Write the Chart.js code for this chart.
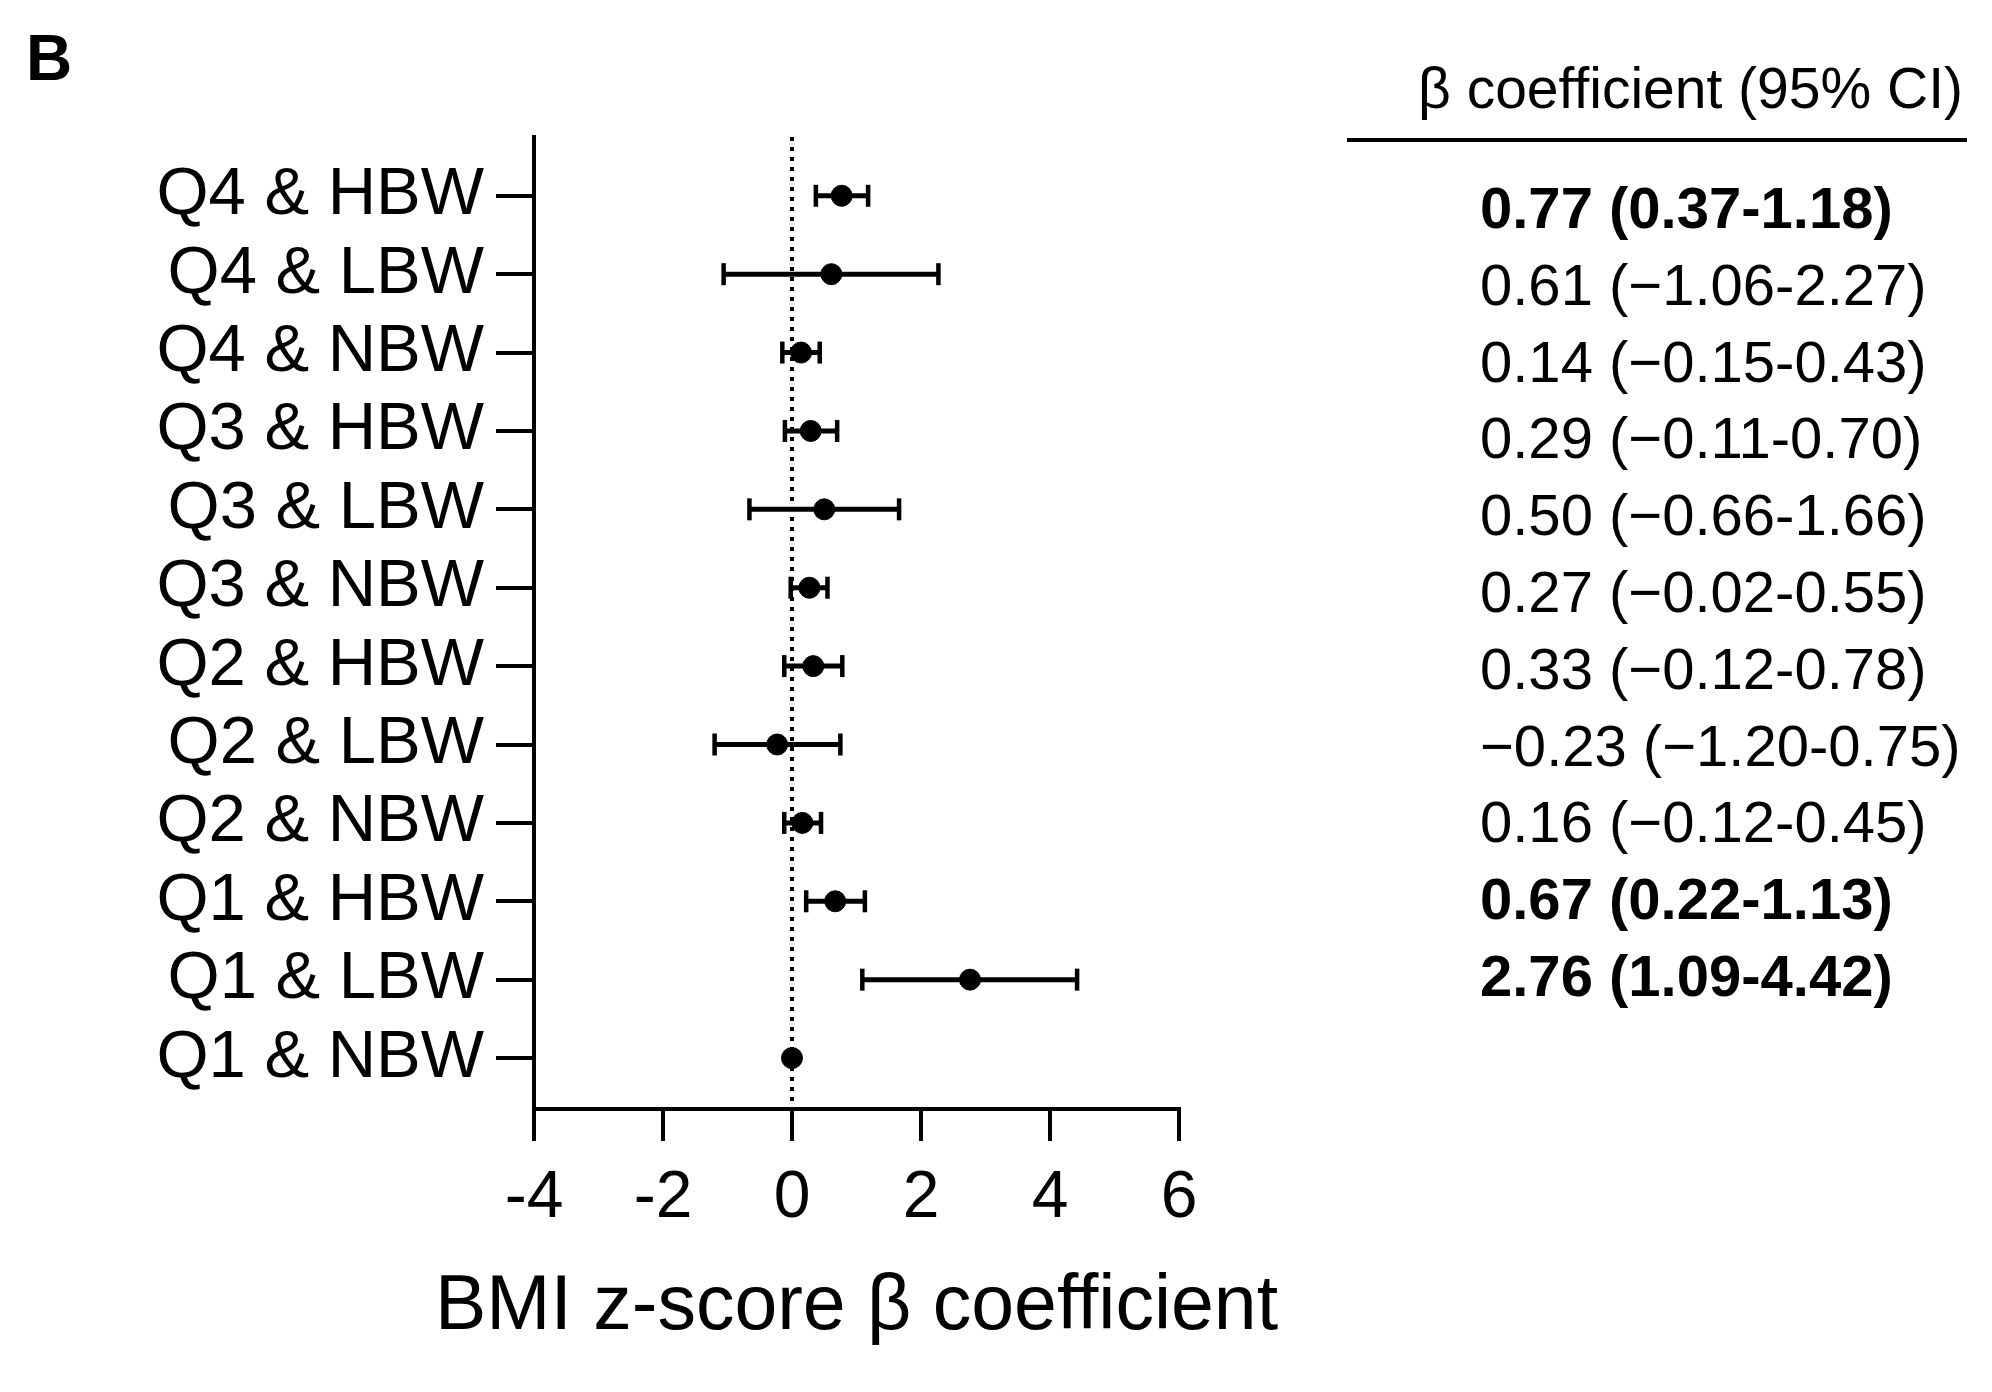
<!DOCTYPE html>
<html>
<head>
<meta charset="utf-8">
<title>BMI z-score forest plot</title>
<script src="https://cdn.jsdelivr.net/npm/chart.js@4.4.1/dist/chart.umd.min.js"></script>
<style>
  html, body { margin: 0; padding: 0; background: #fff; }
  #wrap { width: 1992px; height: 1392px; }
</style>
</head>
<body>
<div id="wrap"><canvas id="forest" width="1992" height="1392"></canvas></div>
<script>
// rows from top to bottom
var categories = ['Q4 & HBW', 'Q4 & LBW', 'Q4 & NBW', 'Q3 & HBW', 'Q3 & LBW', 'Q3 & NBW',
                  'Q2 & HBW', 'Q2 & LBW', 'Q2 & NBW', 'Q1 & HBW', 'Q1 & LBW', 'Q1 & NBW'];
var beta   = [0.77, 0.61, 0.14, 0.29, 0.50, 0.27, 0.33, -0.23, 0.16, 0.67, 2.76, 0];
var ciLow  = [0.37, -1.06, -0.15, -0.11, -0.66, -0.02, -0.12, -1.20, -0.12, 0.22, 1.09, null];
var ciHigh = [1.18, 2.27, 0.43, 0.70, 1.66, 0.55, 0.78, 0.75, 0.45, 1.13, 4.42, null];
var ciText = ['0.77 (0.37-1.18)', '0.61 (\u22121.06-2.27)', '0.14 (\u22120.15-0.43)',
              '0.29 (\u22120.11-0.70)', '0.50 (\u22120.66-1.66)', '0.27 (\u22120.02-0.55)',
              '0.33 (\u22120.12-0.78)', '\u22120.23 (\u22121.20-0.75)', '0.16 (\u22120.12-0.45)',
              '0.67 (0.22-1.13)', '2.76 (1.09-4.42)', ''];
var boldRows = [true, false, false, false, false, false, false, false, false, true, true, false];
var xTicks = [-4, -2, 0, 2, 4, 6];
var xTitle = 'BMI z-score \u03b2 coefficient';
var tableHeader = '\u03b2 coefficient (95% CI)';

var FONT = '"Liberation Sans", Arial, Helvetica, sans-serif';
var Y_MIN = -0.75, Y_MAX = 11.65;

var datasets = [];

// point estimates
datasets.push({
	type: 'scatter',
	data: beta.map(function(b, i){ return {x: b, y: i}; }),
	backgroundColor: '#000',
	borderColor: '#000',
	pointRadius: 10.5,
	order: 0
});

// CI whiskers with end caps
for (var i = 0; i < categories.length; i++) {
	if (ciLow[i] === null) continue;
	datasets.push({
		type: 'line',
		data: [{x: ciLow[i], y: i}, {x: ciHigh[i], y: i}],
		borderColor: '#000',
		borderWidth: 5,
		pointStyle: 'line',
		rotation: 90,
		pointRadius: 11,
		pointBorderWidth: 4.5,
		pointBorderColor: '#000',
		fill: false,
		order: 1
	});
}

// dotted reference at zero
datasets.push({
	type: 'line',
	data: [{x: 0, y: Y_MIN}, {x: 0, y: Y_MAX}],
	borderColor: '#000',
	borderWidth: 4,
	borderDash: [4, 6],
	pointRadius: 0,
	fill: false,
	order: 2
});

var textPlugin = {
	id: 'ciTable',
	afterDraw: function(chart) {
		var ctx = chart.ctx;
		var xs = chart.scales.x;
		ctx.save();
		ctx.fillStyle = '#000';
		ctx.textBaseline = 'middle';

		// panel letter
		ctx.font = 'bold 64px ' + FONT;
		ctx.textAlign = 'left';
		ctx.fillText('B', 26, 62);

		// x axis title (drawn here so it is not squeezed to the axis width)
		ctx.font = '77px ' + FONT;
		ctx.textAlign = 'center';
		ctx.fillText(xTitle, (xs.left + xs.right) / 2, 1308);

		// table header and rule
		ctx.font = '57px ' + FONT;
		ctx.textAlign = 'right';
		ctx.fillText(tableHeader, 1963, 92);
		ctx.fillRect(1347, 138, 620, 4);

		// table rows
		ctx.textAlign = 'left';
		for (var i = 0; i < ciText.length; i++) {
			if (!ciText[i]) continue;
			ctx.font = (boldRows[i] ? 'bold ' : '') + '58px ' + FONT;
			ctx.fillText(ciText[i], 1480, 212 + 76.8 * i);
		}
		ctx.restore();
	}
};

var chart = new Chart(document.getElementById('forest'), {
	type: 'scatter',
	data: { datasets: datasets },
	plugins: [textPlugin],
	options: {
		responsive: false,
		animation: false,
		devicePixelRatio: 1,
		layout: {
			padding: { left: 0, right: 813, top: 137, bottom: 23 }
		},
		plugins: {
			legend: { display: false },
			tooltip: { enabled: false }
		},
		scales: {
			x: {
				type: 'linear',
				min: -4,
				max: 6,
				afterBuildTicks: function(scale) {
					scale.ticks = xTicks.map(function(v){ return {value: v}; });
				},
				afterFit: function(scale) { scale.height = 260; },
				border: { display: true, color: '#000', width: 4 },
				grid: {
					drawOnChartArea: false,
					drawTicks: true,
					tickLength: 32,
					tickWidth: 4,
					tickColor: '#000',
					color: '#000',
					lineWidth: 4
				},
				ticks: {
					color: '#000',
					padding: 18,
					font: { family: FONT, size: 66 },
					maxRotation: 0
				},
				title: { display: false }
			},
			y: {
				type: 'linear',
				reverse: true,
				min: Y_MIN,
				max: Y_MAX,
				afterBuildTicks: function(scale) {
					scale.ticks = categories.map(function(c, i){ return {value: i}; });
				},
				afterFit: function(scale) { scale.width = 534; },
				border: { display: true, color: '#000', width: 4 },
				grid: {
					drawOnChartArea: false,
					drawTicks: true,
					tickLength: 38,
					tickWidth: 4,
					tickColor: '#000',
					color: '#000',
					lineWidth: 4
				},
				ticks: {
					color: '#000',
					padding: 12,
					font: { family: FONT, size: 67 },
					callback: function(value) { return categories[value]; }
				}
			}
		}
	}
});
</script>
</body>
</html>
